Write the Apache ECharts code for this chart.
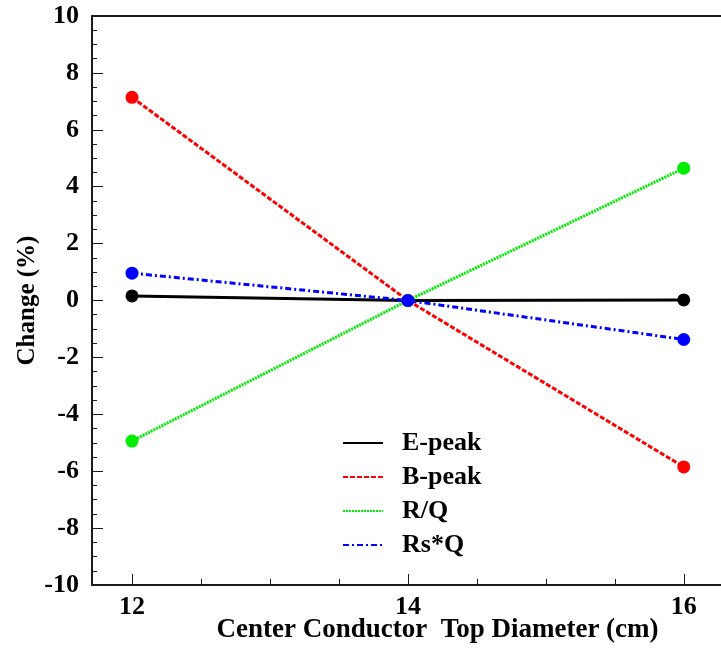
<!DOCTYPE html>
<html>
<head>
<meta charset="utf-8">
<script src="https://cdn.jsdelivr.net/npm/echarts@6/dist/echarts.min.js"></script>
<style>html,body{margin:0;padding:0;background:#fff}#c{width:721px;height:649px}</style>
</head>
<body>
<div id="c"></div>
<script>
var xValues = [12, 14, 16];
var ePeak = [0.16, 0, 0.02];
var bPeak = [7.14, 0, -5.85];
var rOverQ = [-4.94, 0, 4.65];
var rsQ = [0.96, 0, -1.37];
var xMajorTicks = [12, 14, 16];
var xMinorTicks = [12.5, 13, 13.5, 14.5, 15, 15.5];
var seriesNames = ['E-peak', 'B-peak', 'R/Q', 'Rs*Q'];

var FONT = 'Liberation Serif';
function pts(arr) { return xValues.map(function (x, i) { return [x, arr[i]]; }); }

var chart = echarts.init(document.getElementById('c'), null, {renderer: 'canvas'});
var axisCol = '#1a1a1a';
var gridBox = {left: 92, right: 0, top: 16, bottom: 64, containLabel: false, outerBoundsMode: 'none'};
var option = {
  backgroundColor: '#fff',
  animation: false,
  grid: [Object.assign({}, gridBox), Object.assign({}, gridBox)],
  legend: {
    orient: 'vertical',
    left: 337,
    top: 425,
    itemWidth: 40,
    itemHeight: 24,
    itemGap: 8,
    data: seriesNames,
    itemStyle: {opacity: 0},
    textStyle: {fontFamily: FONT, fontWeight: 'bold', fontSize: 26, color: '#000', padding: [0, 0, 0, 14]}
  },
  xAxis: [{
    type: 'value', gridIndex: 0, min: 11.71, max: 16.27, position: 'bottom',
    axisLine: {show: true, onZero: false, lineStyle: {color: axisCol, width: 2}},
    axisTick: {show: true, inside: true, length: 11, customValues: xMajorTicks, lineStyle: {color: axisCol, width: 1}},
    axisLabel: {show: true, customValues: xMajorTicks, margin: 9, fontFamily: FONT, fontWeight: 'bold', fontSize: 26, color: '#000'},
    splitLine: {show: false},
    name: 'Center Conductor  Top Diameter (cm)',
    nameLocation: 'middle',
    nameGap: 32,
    nameMoveOverlap: false,
    nameTextStyle: {fontFamily: FONT, fontWeight: 'bold', fontSize: 27, color: '#000', padding: [0, 0, 0, 62]}
  }, {
    type: 'value', gridIndex: 1, min: 11.71, max: 16.27, position: 'bottom',
    axisLine: {show: false, onZero: false},
    axisTick: {show: true, inside: true, length: 6, customValues: xMinorTicks, lineStyle: {color: axisCol, width: 1}},
    axisLabel: {show: false},
    splitLine: {show: false}
  }, {
    type: 'value', gridIndex: 1, min: 11.71, max: 16.27, position: 'top',
    axisLine: {show: true, onZero: false, lineStyle: {color: axisCol, width: 2}},
    axisTick: {show: false}, axisLabel: {show: false}, splitLine: {show: false}
  }],
  yAxis: [{
    type: 'value', gridIndex: 0, min: -10, max: 10, interval: 2,
    axisLine: {show: true, onZero: false, lineStyle: {color: axisCol, width: 2}},
    axisTick: {show: true, inside: true, length: 11, lineStyle: {color: axisCol, width: 1}},
    minorTick: {show: true, splitNumber: 4, length: 5, lineStyle: {color: axisCol, width: 1}},
    axisLabel: {margin: 13, fontFamily: FONT, fontWeight: 'bold', fontSize: 26, color: '#000'},
    splitLine: {show: false}, minorSplitLine: {show: false},
    name: 'Change (%)',
    nameLocation: 'middle',
    nameGap: 52,
    nameMoveOverlap: false,
    nameTextStyle: {fontFamily: FONT, fontWeight: 'bold', fontSize: 25, color: '#000'}
  }, {
    type: 'value', gridIndex: 1, min: -10, max: 10, interval: 2, show: false,
    axisLine: {show: false}, axisTick: {show: false}, axisLabel: {show: false}, splitLine: {show: false}
  }],
  series: [
    {name: 'E-peak', type: 'line', data: pts(ePeak), symbol: 'circle', symbolSize: 13, color: '#000',
      lineStyle: {color: '#000', width: 3, type: 'solid'}, itemStyle: {color: '#000'}},
    {name: 'B-peak', type: 'line', data: pts(bPeak), symbol: 'circle', symbolSize: 13, color: '#ff0000',
      lineStyle: {color: '#ff0000', width: 3, type: [5, 2]}, itemStyle: {color: '#ff0000'}},
    {name: 'R/Q', type: 'line', data: pts(rOverQ), symbol: 'circle', symbolSize: 13, color: '#00ee00',
      lineStyle: {color: '#00ee00', width: 3, type: [2, 1]}, itemStyle: {color: '#00ee00'}},
    {name: 'Rs*Q', type: 'line', data: pts(rsQ), symbol: 'circle', symbolSize: 13, color: '#0000ff',
      lineStyle: {color: '#0000ff', width: 3, type: [6, 3, 2, 3]}, itemStyle: {color: '#0000ff'}}
  ]
};
chart.setOption(option);
</script>
</body>
</html>
